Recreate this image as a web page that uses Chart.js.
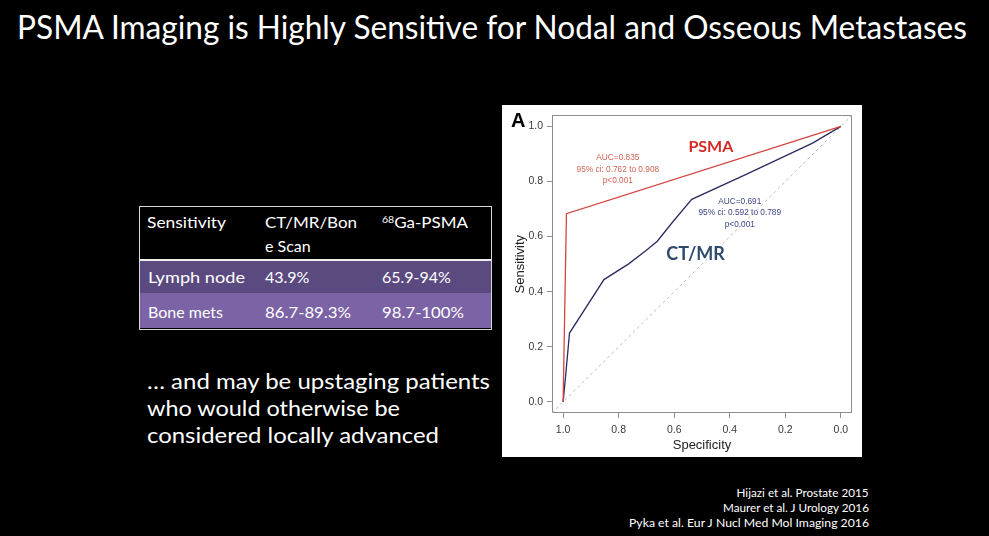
<!DOCTYPE html>
<html>
<head>
<meta charset="utf-8">
<script src="https://cdn.jsdelivr.net/npm/chart.js@4"></script>
<style>
  html, body { margin: 0; padding: 0; background: #000; }
  #slide { position: relative; width: 989px; height: 536px; background: #000; overflow: hidden;
           font-family: Lato, "Open Sans", sans-serif; color: #fff; }
  #panel { position: absolute; left: 502px; top: 105px; width: 360px; height: 352px; background: #fff; }
  .bl { display: inline-block; width: 0; height: 0; }
  .box { position: absolute; }
</style>
</head>
<body>
<div id="slide">
  <!-- table background -->
  <div class="box" style="left:139px;top:206px;width:351px;height:122px;border:1px solid #d8d8d8;"></div>
  <div class="box" style="left:140px;top:261px;width:351px;height:32px;background:#5b4a7f;"></div>
  <div class="box" style="left:140px;top:293px;width:351px;height:35px;background:#7b63a6;"></div>
  <div class="box" style="left:140px;top:259px;width:351px;height:2px;background:#eee;"></div>
  <div id="panel"><canvas id="roc" width="360" height="352"></canvas></div>
</div>

<script>
// ROC curves (specificity on x, sensitivity on y)
const psmaSpec = [1.0, 0.988, 0.0];
const psmaSens = [0.0, 0.683, 1.0];

const ctmrSpec = [1.0, 0.991, 0.977, 0.853, 0.764, 0.698, 0.661, 0.607, 0.537, 0.343, 0.102, 0.0];
const ctmrSens = [0.0, 0.094, 0.250, 0.444, 0.501, 0.552, 0.583, 0.651, 0.735, 0.825, 0.939, 1.0];

// reference (chance) line across the whole plot box
const chanceSpec = [1.04, -0.04];
const chanceSens = [-0.04, 1.04];

const axisTicks = [0, 0.2, 0.4, 0.6, 0.8, 1.0];

// text written on the plot, placed in data units
const notes = [
  { lines: ['PSMA'], x: 0.468, y: 0.927, color: '#d42a26', font: 'bold 16px Lato' },
  { lines: ['CT/MR'], x: 0.523, y: 0.535, color: '#2e4a6d', font: 'bold 18px Lato' },
  { lines: ['AUC=0.835', '95% ci: 0.762 to 0.908', 'p<0.001'], x: 0.803, y: 0.844, color: '#cf6255', font: '8.3px "Liberation Sans"' },
  { lines: ['AUC=0.691', '95% ci: 0.592 to 0.789', 'p<0.001'], x: 0.364, y: 0.686, color: '#3d4788', font: '8.3px "Liberation Sans"' }
];

const slide = document.getElementById('slide');

function put(html, x, base, size, o = {}) {
  const d = document.createElement('div');
  d.style.cssText = 'position:absolute;left:0;top:0;white-space:nowrap;line-height:1.2;font-size:' + size + 'px;';
  if (o.font) d.style.fontFamily = o.font;
  if (o.weight) d.style.fontWeight = o.weight;
  d.style.color = o.color || '#fff';
  d.innerHTML = html + '<span class="bl"></span>';
  slide.appendChild(d);
  const w = d.getBoundingClientRect().width;
  d.style.top = (base - d.querySelector('.bl').offsetTop) + 'px';
  if (o.right) {
    d.style.left = (x - w) + 'px';
    d.style.transformOrigin = 'right center';
  } else {
    d.style.left = x + 'px';
    d.style.transformOrigin = 'left center';
  }
  if (o.w) d.style.transform = 'scaleX(' + (o.w / w) + ')';
}

// slide text
put('PSMA Imaging is Highly Sensitive for Nodal and Osseous Metastases', 17, 39, 32, { w: 950 });

put('Sensitivity', 147, 228, 16, { w: 79 });
put('CT/MR/Bon', 265, 228, 16, { w: 92 });
put('e Scan', 265, 252, 16);
put('<sup style="font-size:0.62em;vertical-align:0.5em;line-height:0">68</sup>Ga-PSMA', 382, 228, 16, { w: 86 });
put('Lymph node', 148, 283, 16, { w: 97 });
put('43.9%', 265, 283, 16);
put('65.9-94%', 382, 283, 16);
put('Bone mets', 148, 318, 16);
put('86.7-89.3%', 265, 318, 16, { w: 86 });
put('98.7-100%', 382, 318, 16, { w: 82 });

put('\u2026 and may be upstaging patients', 147, 389, 22, { w: 343 });
put('who would otherwise be', 147, 416, 22, { w: 253 });
put('considered locally advanced', 147, 443, 22, { w: 292 });

put('Hijazi et al. Prostate 2015', 869, 497, 10.5, { right: true, w: 132 });
put('Maurer et al. J Urology 2016', 869, 512, 10.5, { right: true, w: 146 });
put('Pyka et al. Eur J Nucl Med Mol Imaging 2016', 869, 527, 10.5, { right: true, w: 240 });

put('A', 511, 127, 20, { font: '"Liberation Sans", Arial, sans-serif', weight: 'bold', color: '#000' });

const toPoints = (xs, ys) => xs.map((x, i) => ({ x: x, y: ys[i] }));

const frame = {
  id: 'frame',
  beforeDatasetsDraw(chart) {
    const a = chart.chartArea, ctx = chart.ctx;
    ctx.save();
    ctx.strokeStyle = '#8c8c8c';
    ctx.lineWidth = 1;
    ctx.strokeRect(Math.round(a.left) + 0.5, Math.round(a.top) + 0.5,
                   Math.round(a.right - a.left) - 1, Math.round(a.bottom - a.top) - 1);
    ctx.restore();
  }
};

const labels = {
  id: 'labels',
  afterDatasetsDraw(chart) {
    const ctx = chart.ctx, sx = chart.scales.x, sy = chart.scales.y;
    ctx.save();
    ctx.textAlign = 'center';
    ctx.textBaseline = 'middle';
    notes.forEach(n => {
      ctx.font = n.font;
      ctx.fillStyle = n.color;
      const px = sx.getPixelForValue(n.x), py = sy.getPixelForValue(n.y);
      const lh = n.lines.length > 1 ? 11.5 : 0;
      n.lines.forEach((t, i) => {
        ctx.fillText(t, px, py + (i - (n.lines.length - 1) / 2) * lh);
      });
    });
    ctx.restore();
  }
};

const tickFont = { family: '"Liberation Sans", Arial, sans-serif', size: 10.5 };
const titleFont = { family: '"Liberation Sans", Arial, sans-serif', size: 13 };

new Chart(document.getElementById('roc'), {
  type: 'line',
  data: {
    datasets: [
      { label: 'PSMA', data: toPoints(psmaSpec, psmaSens), borderColor: '#d2463d', borderWidth: 1.3,
        pointRadius: 0, tension: 0, order: 0 },
      { label: 'CT/MR', data: toPoints(ctmrSpec, ctmrSens), borderColor: '#2b2c62', borderWidth: 1.3,
        pointRadius: 0, tension: 0, order: 1 },
      { label: 'chance', data: toPoints(chanceSpec, chanceSens), borderColor: '#bcbcbc', borderWidth: 1,
        borderDash: [3, 3], pointRadius: 0, order: 2 }
    ]
  },
  options: {
    responsive: false,
    animation: false,
    layout: { padding: { top: 9, right: 10, left: 0, bottom: 0 } },
    plugins: { legend: { display: false }, tooltip: { enabled: false } },
    scales: {
      x: {
        type: 'linear', reverse: true, min: -0.04, max: 1.04,
        afterBuildTicks: s => { s.ticks = axisTicks.map(v => ({ value: v })); },
        afterFit: s => { s.height = 44; },
        border: { display: false },
        grid: { drawOnChartArea: false, drawTicks: true, tickLength: 5, color: '#8c8c8c' },
        ticks: { padding: 6, color: '#3a3a3a', font: tickFont, maxRotation: 0, autoSkip: false,
                 callback: v => Number(v).toFixed(1) },
        title: { display: true, text: 'Specificity', color: '#222', font: titleFont, padding: { top: 0, bottom: 4 } }
      },
      y: {
        type: 'linear', min: -0.04, max: 1.04,
        afterBuildTicks: s => { s.ticks = axisTicks.map(v => ({ value: v })); },
        afterFit: s => { s.width = 50; },
        border: { display: false },
        grid: { drawOnChartArea: false, drawTicks: true, tickLength: 5, color: '#8c8c8c' },
        ticks: { padding: 4, color: '#3a3a3a', font: tickFont, autoSkip: false,
                 callback: v => Number(v).toFixed(1) },
        title: { display: true, text: 'Sensitivity', color: '#222', font: titleFont, padding: { top: 11, bottom: 0 } }
      }
    }
  },
  plugins: [frame, labels]
});
</script>
</body>
</html>
